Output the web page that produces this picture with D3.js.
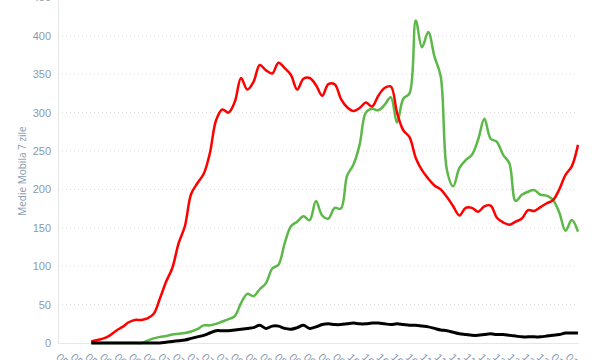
<!DOCTYPE html>
<html>
<head>
<meta charset="utf-8">
<script src="https://cdn.jsdelivr.net/npm/d3@7"></script>
<style>
  body { margin: 0; background: #fff; }
  svg { display: block; font-family: "Open Sans", sans-serif; }
</style>
</head>
<body>
<svg width="600" height="360"></svg>
<script>
// data: 7 day moving average, one value every 3 days
var firstDay = "2020-05-30";
var stepDays = 3;

var redValues = [2, 4, 6, 10, 16, 21, 27, 30, 30, 32, 38, 58, 80, 98, 130, 152, 194, 208, 220, 247,
  290, 304, 300, 314, 345, 330, 340, 362, 355, 351, 365, 358, 349, 330, 344, 345, 336, 322, 337, 337,
  318, 307, 302, 306, 313, 308, 322, 332, 334, 300, 277, 268, 241, 225, 214, 205, 200, 190, 178, 166,
  176, 176, 171, 178, 179, 163, 157, 154, 158, 162, 173, 172, 177, 182, 186, 200, 219, 230, 258];

var greenValues = [0, 0, 0, 0, 0, 0, 0, 0, 0, 3, 6, 8, 9, 11, 12, 13, 15, 18, 23, 23,
  25, 28, 31, 35, 52, 64, 61, 70, 78, 97, 102, 130, 152, 158, 165, 160, 185, 166, 162, 176,
  175, 218, 232, 258, 300, 305, 303, 310, 320, 287, 318, 325, 420, 385, 405, 373, 347, 225, 204, 228,
  238, 245, 265, 292, 266, 262, 245, 234, 185, 193, 197, 199, 193, 192, 186, 170, 146, 160, 145];

var blackValues = [0, 0, 0, 0, 0, 0, 0, 0, 0, 0, 0, 0, 1, 2, 3, 4, 6, 8, 10, 13,
  16, 16, 16, 17, 18, 19, 20, 23, 19, 22, 22, 19, 18, 20, 23, 19, 21, 24, 25, 24,
  24, 25, 26, 25, 25, 26, 26, 25, 24, 25, 24, 23, 23, 22, 21, 19, 17, 16, 14, 12,
  11, 10, 10, 11, 12, 11, 11, 10, 9, 8, 8, 8, 8, 9, 10, 11, 13, 13, 13];

var tickDates = ["2020-05-14", "2020-05-21", "2020-05-28", "2020-06-04", "2020-06-11", "2020-06-18",
  "2020-06-25", "2020-07-02", "2020-07-09", "2020-07-16", "2020-07-23", "2020-07-30",
  "2020-08-06", "2020-08-13", "2020-08-20", "2020-08-27", "2020-09-03", "2020-09-10",
  "2020-09-17", "2020-09-24", "2020-10-01", "2020-10-08", "2020-10-15", "2020-10-22",
  "2020-10-29", "2020-11-05", "2020-11-12", "2020-11-19", "2020-11-26", "2020-12-03",
  "2020-12-10", "2020-12-17", "2020-12-24", "2020-12-31", "2021-01-07", "2021-01-14"];
var xDomain = ["2020-05-14", "2021-01-19"];
var yTicks = [0, 50, 100, 150, 200, 250, 300, 350, 400, 450];
var yTitle = "Medie Mobila 7 zile";

var parse = d3.utcParse("%Y-%m-%d");
var start = parse(firstDay);
function toPoints(values) {
  return values.map(function(v, i) {
    return { date: d3.utcDay.offset(start, i * stepDays), value: v };
  });
}

var svg = d3.select("svg");
var left = 58, right = 578, bottom = 343;

var x = d3.scaleUtc()
  .domain(xDomain.map(parse))
  .range([left, right]);
var y = d3.scaleLinear()
  .domain([0, 450])
  .range([bottom, bottom - 450 * 0.768]);

var labelColor = "#8a9ab0";

// grid
svg.append("g").selectAll("line")
  .data(yTicks.slice(1))
  .enter().append("line")
  .attr("x1", left).attr("x2", right)
  .attr("y1", function(d) { return y(d); })
  .attr("y2", function(d) { return y(d); })
  .attr("stroke", "#d9d9d9")
  .attr("stroke-dasharray", "1,3");

// y axis
var yAxis = svg.append("g")
  .attr("transform", "translate(" + left + ",0)")
  .call(d3.axisLeft(y).tickValues(yTicks).tickSize(0).tickPadding(7));
yAxis.select(".domain").attr("stroke", "#e6e6e6");
yAxis.selectAll("text")
  .attr("fill", labelColor)
  .style("font-size", "11px");

// x axis
var xAxis = svg.append("g")
  .attr("transform", "translate(0," + bottom + ")")
  .call(d3.axisBottom(x).tickValues(tickDates.map(parse))
    .tickFormat(d3.utcFormat("%m/%d/%Y")).tickSize(0));
xAxis.select(".domain").attr("stroke", "#e6e6e6");
xAxis.selectAll("text")
  .attr("fill", labelColor)
  .style("font-size", "11px")
  .style("text-anchor", "start")
  .attr("y", 0).attr("dy", 0)
  .attr("transform", "translate(-3,15) rotate(45)");

// y title
svg.append("text")
  .attr("transform", "translate(26,171) rotate(-90)")
  .attr("text-anchor", "middle")
  .attr("fill", labelColor)
  .style("font-size", "10px")
  .text(yTitle);

var line = d3.line()
  .x(function(d) { return x(d.date); })
  .y(function(d) { return y(d.value); })
  .curve(d3.curveCatmullRom.alpha(0.5));

var series = [
  { values: greenValues, color: "#5cb848", width: 2.5 },
  { values: redValues, color: "#ff0000", width: 2.5 },
  { values: blackValues, color: "#000000", width: 3 }
];

svg.selectAll(".series")
  .data(series)
  .enter().append("path")
  .attr("class", "series")
  .attr("fill", "none")
  .attr("stroke", function(d) { return d.color; })
  .attr("stroke-width", function(d) { return d.width; })
  .attr("stroke-linejoin", "round")
  .attr("d", function(d) { return line(toPoints(d.values)); });
</script>
</body>
</html>
